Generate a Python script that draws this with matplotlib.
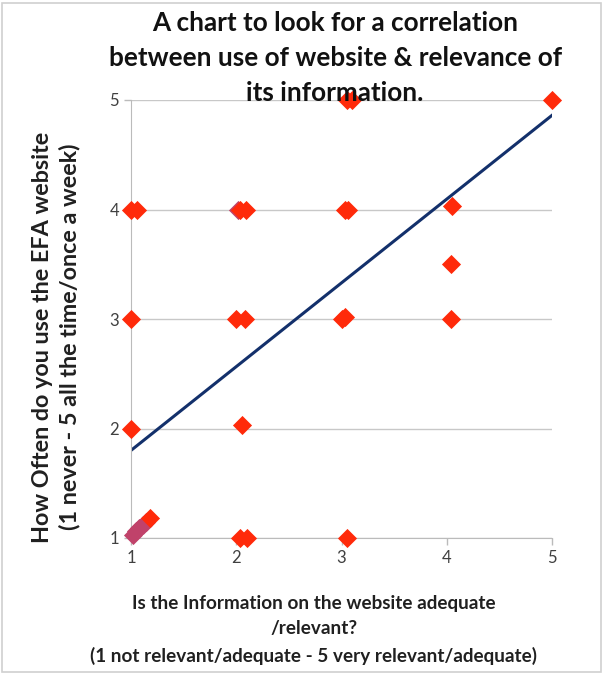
import matplotlib
matplotlib.use("Agg")
import matplotlib.pyplot as plt
from matplotlib.patches import Rectangle

# survey answers: relevance of information (x) vs. website use (y)
relevance = [1.0, 1.06, 2.04, 2.09, 3.03, 3.06, 4.05, 3.05, 3.1, 5.0, 4.04,
             1.0, 2.0, 2.08, 3.0, 3.03, 4.04, 1.0, 2.05, 1.18, 2.04, 2.1, 3.05]
usage = [4.0, 4.0, 4.0, 4.0, 4.0, 4.0, 4.03, 5.0, 5.0, 5.0, 3.5,
         3.0, 3.0, 3.0, 3.0, 3.02, 3.0, 2.0, 2.03, 1.18, 1.0, 1.0, 1.0]
# overlapping answers drawn in the darker colour
overlap_x = [1.02, 1.05, 1.08, 1.11, 1.14, 2.02]
overlap_y = [1.03, 1.06, 1.09, 1.12, 1.15, 4.0]
# linear trend line
trend_x = [1, 5]
trend_y = [1.8, 4.86]

plt.rcParams["font.family"] = ["Lato", "DejaVu Sans"]
fig = plt.figure(figsize=(6.05, 6.74), dpi=100)
ax = fig.add_axes([131/605, 1-538/674, (552-131)/605, (538-100)/674])
fig.patches.append(Rectangle((0.004, 0.003), 0.99, 0.993, transform=fig.transFigure,
                             fill=False, ec="#d0d0d0", lw=1.2))

ax.set_xlim(1, 5); ax.set_ylim(1, 5)
ax.set_xticks([1, 2, 3, 4, 5]); ax.set_yticks([1, 2, 3, 4, 5])
ax.grid(axis="y", color="#c8c8c8", lw=1)
ax.set_axisbelow(True)
for s in ["top", "right"]:
    ax.spines[s].set_visible(False)
for s in ["left", "bottom"]:
    ax.spines[s].set_color("#bbbbbb")
ax.tick_params(colors="#bbbbbb", labelcolor="#404040", labelsize=12, length=5, width=1)

ax.plot(trend_x, trend_y, color="#13306b", lw=2.2, zorder=2)
ax.scatter(overlap_x, overlap_y, marker="D", s=95, color="#c0426a", lw=0, zorder=3, clip_on=False)
ax.scatter(relevance, usage, marker="D", s=95, color="#ff2a0a", lw=0, zorder=4, clip_on=False)

ax.set_xlabel("Is the Information on the website adequate\n/relevant?\n(1 not relevant/adequate - 5 very relevant/adequate)",
              fontsize=13.6, fontweight="bold", color="#202020", linespacing=1.6)
ax.xaxis.set_label_coords((314-131)/421, -(595-538)/438)
ax.set_ylabel("How Often do you use the EFA website\n(1 never - 5 all the time/once a week)",
              fontsize=16.8, fontweight="bold", color="#202020", linespacing=1.3)
ax.yaxis.set_label_coords((80-131)/421, (538-337)/438)
fig.text(0.554, 0.983, "A chart to look for a correlation\nbetween use of website & relevance of\nits information.",
         ha="center", va="top", fontsize=18.8, fontweight="bold", color="#111111", linespacing=1.55)

fig.savefig("out.png", dpi=100)
